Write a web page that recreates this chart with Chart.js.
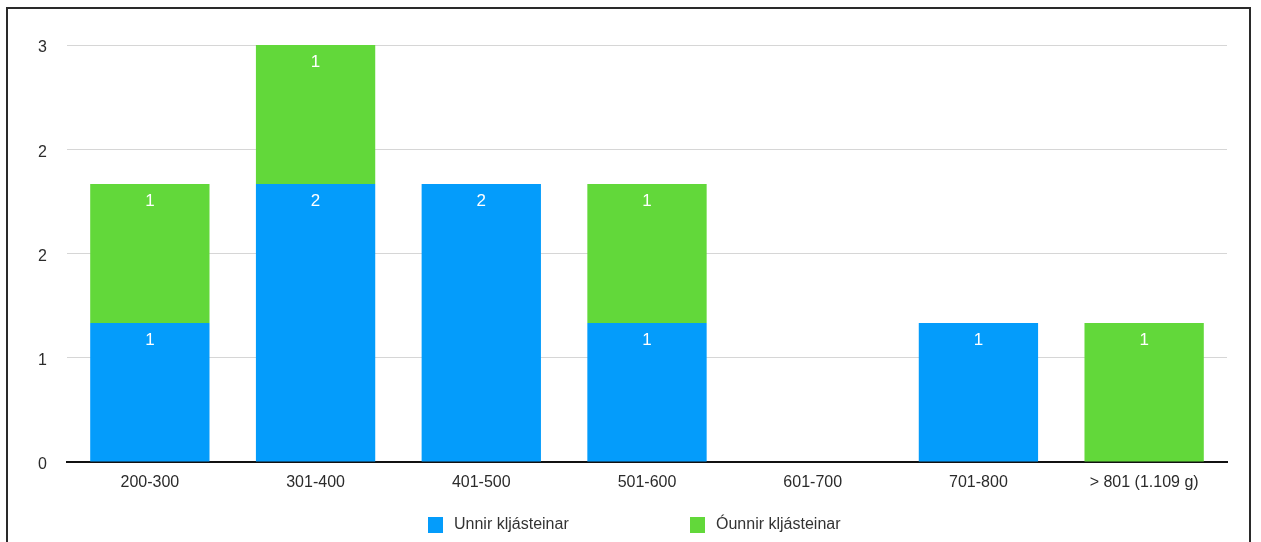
<!DOCTYPE html>
<html>
<head>
<meta charset="utf-8">
<script src="https://cdn.jsdelivr.net/npm/chart.js@4"></script>
<style>
  html, body { margin: 0; padding: 0; background: #fff; }
  #wrap { position: relative; width: 1261px; height: 542px; }
  #frame { position: absolute; left: 6px; top: 7px; width: 1245px; height: 560px; border: 2px solid #2a2a2a; box-sizing: border-box; }
  canvas { position: absolute; left: 0; top: 0; }
</style>
</head>
<body>
<div id="wrap">
  <div id="frame"></div>
  <canvas id="chart" width="1261" height="542"></canvas>
</div>
<script>
// Chart data
const categories = ['200-300', '301-400', '401-500', '501-600', '601-700', '701-800', '> 801 (1.109 g)'];
const unnir = [1, 2, 2, 1, 0, 1, 0];
const ounnir = [1, 1, 0, 1, 0, 0, 1];
const seriesNames = ['Unnir kljásteinar', 'Óunnir kljásteinar'];
const seriesColors = ['#049cfb', '#62d83a'];

const fontFamily = '"Liberation Sans", Arial, sans-serif';

// white value labels inside each bar segment
const valueLabels = {
    id: 'valueLabels',
    afterDatasetsDraw(chart) {
        const ctx = chart.ctx;
        ctx.save();
        ctx.fillStyle = '#ffffff';
        ctx.font = '17px ' + fontFamily;
        ctx.textAlign = 'center';
        ctx.textBaseline = 'middle';
        chart.data.datasets.forEach(function (ds, i) {
            const meta = chart.getDatasetMeta(i);
            meta.data.forEach(function (bar, j) {
                const v = ds.data[j];
                if (!v) return;
                ctx.fillText(String(v), bar.x, bar.y + 17);
            });
        });
        ctx.restore();
    }
};

// legend drawn below the axis, spread out like the original
const spreadLegend = {
    id: 'spreadLegend',
    afterDraw(chart) {
        const ctx = chart.ctx;
        const xs = [428, 690];
        const y = 525;
        ctx.save();
        ctx.font = '16px ' + fontFamily;
        ctx.textBaseline = 'middle';
        ctx.textAlign = 'left';
        chart.data.datasets.forEach(function (ds, i) {
            ctx.fillStyle = ds.backgroundColor;
            ctx.fillRect(xs[i], y - 8, 15, 16);
            ctx.fillStyle = '#333';
            ctx.fillText(ds.label, xs[i] + 26, y);
        });
        ctx.restore();
    }
};

const ctx = document.getElementById('chart').getContext('2d');
new Chart(ctx, {
    type: 'bar',
    data: {
        labels: categories,
        datasets: [
            { label: seriesNames[0], data: unnir, backgroundColor: seriesColors[0] },
            { label: seriesNames[1], data: ounnir, backgroundColor: seriesColors[1] }
        ]
    },
    options: {
        responsive: false,
        animation: false,
        layout: { padding: { left: 20, right: 34, top: 45, bottom: 40 } },
        datasets: {
            bar: { categoryPercentage: 1, barPercentage: 0.72 }
        },
        plugins: {
            legend: { display: false },
            tooltip: { enabled: false }
        },
        scales: {
            x: {
                stacked: true,
                grid: { display: false, drawTicks: false },
                border: { display: true, color: '#111', width: 2 },
                ticks: { color: '#2b2b2b', padding: 11, font: { family: fontFamily, size: 16 } },
                afterFit: function (scale) { scale.height = 40; }
            },
            y: {
                stacked: true,
                min: 0,
                max: 3,
                grid: { color: '#d6d6d6', drawTicks: false },
                border: { display: false },
                ticks: {
                    stepSize: 0.75,
                    color: '#2b2b2b',
                    padding: 20,
                    labelOffset: 3,
                    font: { family: fontFamily, size: 16 },
                    callback: function (v) { return Math.round(v); }
                },
                afterFit: function (scale) { scale.width = 47; }
            }
        }
    },
    plugins: [valueLabels, spreadLegend]
});
</script>
</body>
</html>
